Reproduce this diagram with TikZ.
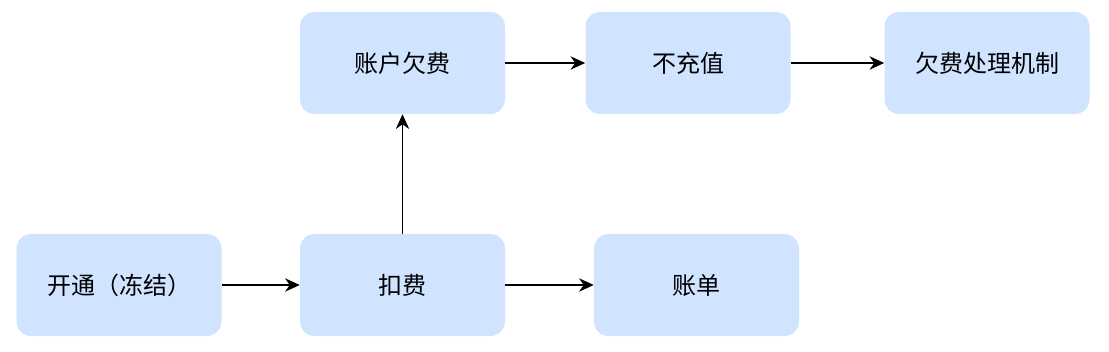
\documentclass[tikz,border=0pt]{standalone}
\usepackage{fontspec}
\newfontfamily\cjk{Noto Sans CJK SC}
\usetikzlibrary{arrows.meta}
\definecolor{boxfill}{HTML}{D0E3FF}
\begin{document}
\begin{tikzpicture}[x=0.75pt,y=-0.75pt,
  box/.style={draw=none,fill=boxfill,rounded corners=11pt,minimum width=153.75pt,minimum height=76.5pt,inner sep=0pt,font=\cjk\fontsize{18}{20}\selectfont},
  conn/.style={line width=1.1pt,-{Stealth[length=11pt,width=10pt,inset=3.5pt]}}]
\useasboundingbox (0,0) rectangle (1109,352);
\node[box] (zhqf) at (402.5,63) {账户欠费};
\node[box] (bcz) at (688,63) {不充值};
\node[box] (qfcl) at (987,63) {欠费处理机制};
\node[box] (kt) at (119,285) {开通（冻结）};
\node[box] (kf) at (402.5,285) {扣费};
\node[box] (zd) at (696.5,285) {账单};
\draw[conn] (kt) -- (kf);
\draw[conn] (kf) -- (zd);
\draw[conn] (kf) -- (zhqf);
\draw[conn] (zhqf) -- (bcz);
\draw[conn] (bcz) -- (qfcl);
\end{tikzpicture}
\end{document}
